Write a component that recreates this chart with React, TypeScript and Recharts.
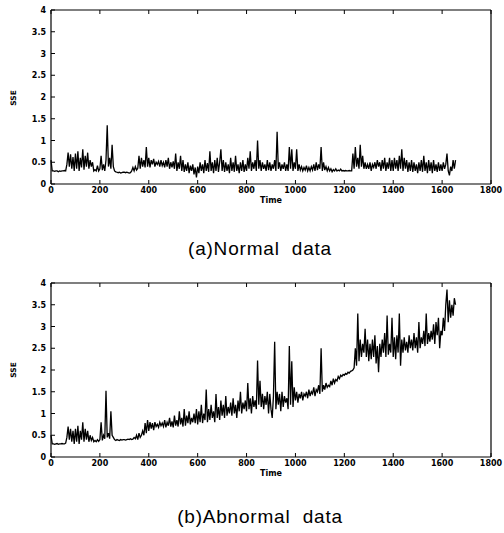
import { LineChart, Line, XAxis, YAxis } from 'recharts';

const TIME_STEP = 5;

const normalSSE = [
  0.55, 0.3, 0.3, 0.29, 0.3, 0.3, 0.28, 0.3, 0.29, 0.3, 0.3, 0.31, 0.3, 0.45, 0.72, 0.4, 0.68, 0.35, 0.62, 0.3,
  0.7, 0.35, 0.75, 0.3, 0.6, 0.38, 0.8, 0.33, 0.65, 0.4, 0.72, 0.35, 0.55, 0.4, 0.5, 0.3, 0.33, 0.3, 0.42, 0.3,
  0.35, 0.65, 0.32, 0.45, 0.3, 0.55, 1.35, 0.4, 0.6, 0.35, 0.9, 0.4, 0.3, 0.28, 0.27, 0.26, 0.27, 0.25, 0.26, 0.27,
  0.27, 0.26, 0.27, 0.26, 0.25, 0.26, 0.3, 0.38, 0.3, 0.4, 0.32, 0.36, 0.65, 0.35, 0.6, 0.4, 0.55, 0.38, 0.85, 0.4,
  0.6, 0.38, 0.55, 0.45, 0.58, 0.4, 0.5, 0.45, 0.52, 0.4, 0.55, 0.42, 0.5, 0.38, 0.55, 0.4, 0.6, 0.35, 0.5, 0.38,
  0.52, 0.35, 0.7, 0.3, 0.5, 0.35, 0.65, 0.3, 0.55, 0.28, 0.45, 0.3, 0.5, 0.25, 0.42, 0.3, 0.45, 0.22, 0.38, 0.15,
  0.4, 0.25, 0.5, 0.3, 0.45, 0.25, 0.55, 0.3, 0.48, 0.28, 0.75, 0.3, 0.5, 0.25, 0.55, 0.3, 0.6, 0.28, 0.5, 0.8,
  0.3, 0.55, 0.28, 0.5, 0.3, 0.45, 0.25, 0.6, 0.3, 0.5, 0.28, 0.65, 0.3, 0.45, 0.25, 0.5, 0.3, 0.55, 0.28, 0.45,
  0.3, 0.6, 0.35, 0.75, 0.3, 0.5, 0.35, 0.55, 0.3, 1.0, 0.35, 0.55, 0.3, 0.5, 0.35, 0.45, 0.3, 0.55, 0.32, 0.5,
  0.3, 0.45, 0.35, 0.55, 0.3, 1.2, 0.35, 0.5, 0.3, 0.45, 0.35, 0.5, 0.3, 0.45, 0.3, 0.85, 0.35, 0.8, 0.3, 0.5,
  0.35, 0.8, 0.3, 0.45, 0.32, 0.4, 0.3, 0.38, 0.32, 0.42, 0.3, 0.38, 0.3, 0.4, 0.32, 0.45, 0.3, 0.5, 0.32, 0.45,
  0.35, 0.85, 0.3, 0.5, 0.32, 0.4, 0.3, 0.38, 0.3, 0.35, 0.28, 0.33, 0.3, 0.35, 0.3, 0.32, 0.3, 0.34, 0.3, 0.31,
  0.3, 0.31, 0.3, 0.3, 0.31, 0.3, 0.3, 0.7, 0.35, 0.85, 0.4, 0.6, 0.35, 0.9, 0.4, 0.65, 0.35, 0.5, 0.35, 0.45,
  0.35, 0.5, 0.3, 0.45, 0.38, 0.5, 0.35, 0.55, 0.4, 0.5, 0.3, 0.55, 0.35, 0.6, 0.3, 0.5, 0.35, 0.6, 0.3, 0.55,
  0.3, 0.6, 0.35, 0.55, 0.3, 0.65, 0.35, 0.8, 0.3, 0.6, 0.35, 0.55, 0.28, 0.5, 0.3, 0.55, 0.28, 0.5, 0.3, 0.45,
  0.25, 0.5, 0.3, 0.55, 0.28, 0.65, 0.3, 0.5, 0.25, 0.55, 0.3, 0.5, 0.25, 0.55, 0.3, 0.45, 0.28, 0.5, 0.3, 0.45,
  0.3, 0.5, 0.35, 0.45, 0.7, 0.3, 0.2, 0.4, 0.3, 0.55, 0.35, 0.55,
];

const abnormalSSE = [
  0.5, 0.3, 0.3, 0.29, 0.3, 0.31, 0.29, 0.3, 0.3, 0.31, 0.3, 0.3, 0.32, 0.45, 0.7, 0.4, 0.65, 0.35, 0.6, 0.3,
  0.65, 0.35, 0.72, 0.3, 0.6, 0.4, 0.8, 0.35, 0.65, 0.4, 0.6, 0.35, 0.5, 0.38, 0.45, 0.35, 0.38, 0.35, 0.4, 0.36,
  0.4, 0.8, 0.38, 0.5, 0.42, 1.52, 0.45, 0.55, 0.42, 1.05, 0.5, 0.45, 0.4, 0.38, 0.4, 0.39, 0.38, 0.4, 0.39, 0.4,
  0.4, 0.39, 0.4, 0.41, 0.4, 0.42, 0.4, 0.41, 0.45, 0.42, 0.5, 0.4, 0.55, 0.45, 0.5, 0.6, 0.5, 0.78, 0.55, 0.85,
  0.6, 0.8, 0.65, 0.78, 0.62, 0.8, 0.7, 0.75, 0.68, 0.8, 0.72, 0.78, 0.7, 0.85, 0.68, 0.8, 0.72, 0.9, 0.7, 0.82,
  0.68, 0.95, 0.72, 0.85, 0.7, 1.05, 0.75, 0.9, 0.7, 1.1, 0.72, 0.95, 0.78, 1.05, 0.75, 0.9, 0.8, 1.0, 0.78, 1.1,
  0.75, 1.05, 0.8, 1.2, 0.78, 1.0, 0.85, 1.55, 0.8, 1.1, 0.85, 1.2, 0.9, 1.05, 0.8, 1.45, 0.9, 1.15, 0.85, 1.3,
  0.95, 1.2, 0.9, 1.4, 0.95, 1.15, 1.0, 1.25, 0.95, 1.35, 1.0, 1.2, 0.9, 1.3, 1.05, 1.5, 1.0, 1.25, 1.1, 1.3,
  1.05, 1.7, 1.1, 1.35, 1.0, 1.4, 1.15, 1.3, 1.1, 2.22, 1.2, 1.75, 1.15, 1.45, 1.1, 1.4, 1.2, 1.5, 1.0, 1.45,
  1.1, 0.9, 1.4, 2.65, 1.1, 1.5, 1.2, 1.45, 1.05, 1.5, 1.15, 1.4, 1.25, 1.35, 1.1, 2.55, 1.2, 2.2, 1.15, 1.6,
  1.3, 1.5, 1.25, 1.45, 1.35, 1.5, 1.3, 1.45, 1.4, 1.5, 1.35, 1.55, 1.4, 1.5, 1.45, 1.6, 1.4, 1.55, 1.5, 1.65,
  1.45, 2.5, 1.5, 1.65, 1.55, 1.7, 1.6, 1.65, 1.62, 1.75, 1.65, 1.8, 1.7, 1.78, 1.75, 1.85, 1.8, 1.88, 1.85, 1.9,
  1.88, 1.92, 1.9, 1.95, 1.93, 1.97, 1.98, 2.0, 2.05, 2.5, 2.1, 3.3, 2.2, 2.7, 2.3, 2.6, 2.4, 2.95, 2.3, 2.7,
  2.2, 2.6, 2.25, 2.7, 2.3, 2.8, 2.15, 2.55, 1.95, 2.6, 2.3, 2.7, 2.4, 2.85, 2.3, 3.25, 2.35, 2.6, 2.4, 3.2,
  2.3, 2.75, 2.25, 2.8, 2.4, 3.3, 2.1, 2.7, 2.4, 2.75, 2.45, 2.65, 2.4, 2.8, 2.5, 2.7, 2.45, 2.85, 2.5, 2.75,
  2.4, 3.1, 2.5, 2.75, 2.6, 2.9, 2.55, 3.3, 2.6, 2.85, 2.65, 2.9, 2.7, 3.05, 2.6, 3.1, 2.8, 3.2, 2.5, 2.9,
  2.8, 3.2, 2.9, 3.5, 3.85, 3.1, 3.6, 3.2, 3.5, 3.25, 3.65, 3.5,
];

const xTicks = [0, 200, 400, 600, 800, 1000, 1200, 1400, 1600, 1800];
const yTicks = [0, 0.5, 1, 1.5, 2, 2.5, 3, 3.5, 4];

const toRows = (values: number[]) =>
  values.map((v, i) => ({ time: i * TIME_STEP, sse: v }));

const tickFont = {
  fontFamily: '"DejaVu Sans", sans-serif',
  fontWeight: 'bold' as const,
  fontSize: 8,
  fill: '#000',
};

// matlab style: tick marks point into the plot box
const BottomTick = ({ x, y, payload }: any) => (
  <g>
    <line x1={x} x2={x} y1={y} y2={y - 4} stroke="#000" />
    <text x={x} y={y + 9} textAnchor="middle" {...tickFont}>
      {payload.value}
    </text>
  </g>
);

const LeftTick = ({ x, y, payload }: any) => (
  <g>
    <line x1={x} x2={x + 4} y1={y} y2={y} stroke="#000" />
    <text x={x - 5} y={y + 3} textAnchor="end" {...tickFont}>
      {payload.value}
    </text>
  </g>
);

const TopTick = ({ x, y }: any) => (
  <line x1={x} x2={x} y1={y} y2={y + 4} stroke="#000" />
);

const RightTick = ({ x, y }: any) => (
  <line x1={x} x2={x - 4} y1={y} y2={y} stroke="#000" />
);

const axisLine = { stroke: '#000', strokeWidth: 1.2 };

function SsePlot({ values }: { values: number[] }) {
  const data = toRows(values);
  return (
    <LineChart
      width={504}
      height={210}
      data={data}
      margin={{ top: 9, right: 12, bottom: 0, left: 10 }}
    >
      <XAxis
        dataKey="time"
        type="number"
        domain={[0, 1800]}
        ticks={xTicks}
        interval={0}
        height={26}
        tickSize={0}
        tickMargin={0}
        tickLine={false}
        axisLine={axisLine}
        tick={<BottomTick />}
        label={{
          value: 'Time',
          position: 'insideBottom',
          offset: 7,
          fontSize: 8,
          fontWeight: 'bold',
          fontFamily: '"DejaVu Sans", sans-serif',
          fill: '#000',
        }}
      />
      <XAxis
        xAxisId="top"
        dataKey="time"
        type="number"
        orientation="top"
        domain={[0, 1800]}
        ticks={xTicks}
        interval={0}
        height={1}
        tickSize={0}
        tickMargin={0}
        tickLine={false}
        axisLine={axisLine}
        tick={<TopTick />}
      />
      <YAxis
        type="number"
        domain={[0, 4]}
        ticks={yTicks}
        interval={0}
        width={41}
        tickSize={0}
        tickMargin={0}
        tickLine={false}
        axisLine={axisLine}
        tick={<LeftTick />}
      />
      <YAxis
        yAxisId="right"
        orientation="right"
        type="number"
        domain={[0, 4]}
        ticks={yTicks}
        interval={0}
        width={1}
        tickSize={0}
        tickMargin={0}
        tickLine={false}
        axisLine={axisLine}
        tick={<RightTick />}
      />
      <Line
        type="linear"
        dataKey="sse"
        stroke="#000"
        strokeWidth={1.3}
        dot={false}
        isAnimationActive={false}
      />
    </LineChart>
  );
}

const captionStyle = {
  position: 'absolute' as const,
  left: 0,
  width: 520,
  textAlign: 'center' as const,
  fontFamily: '"Liberation Sans", Arial, sans-serif',
  fontSize: 19,
  letterSpacing: 0.8,
  lineHeight: '22px',
  whiteSpace: 'pre' as const,
  color: '#000',
};

const sseLabelStyle = (top: number) => ({
  position: 'absolute' as const,
  left: 4,
  top,
  width: 20,
  height: 12,
  lineHeight: '12px',
  textAlign: 'center' as const,
  transform: 'rotate(-90deg)',
  fontFamily: '"DejaVu Sans", sans-serif',
  fontWeight: 'bold' as const,
  fontSize: 7.5,
  color: '#000',
});

export default function App() {
  return (
    <div
      style={{
        position: 'absolute',
        left: 0,
        top: 0,
        width: 504,
        height: 533,
        background: '#fff',
        overflow: 'hidden',
      }}
    >
      <div style={{ position: 'absolute', left: 0, top: 0 }}>
        <SsePlot values={normalSSE} />
      </div>
      <div style={sseLabelStyle(92)}>SSE</div>
      <div style={{ ...captionStyle, top: 238 }}>{'(a)Normal  data'}</div>

      <div style={{ position: 'absolute', left: 0, top: 273 }}>
        <SsePlot values={abnormalSSE} />
      </div>
      <div style={sseLabelStyle(364)}>SSE</div>
      <div style={{ ...captionStyle, top: 506 }}>{'(b)Abnormal  data'}</div>
    </div>
  );
}
